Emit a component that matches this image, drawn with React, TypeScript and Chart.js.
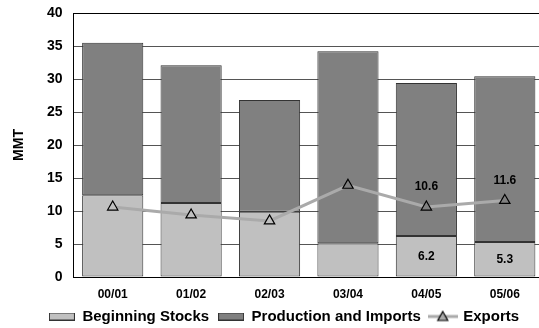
import React, { useEffect, useRef } from "react";
import { Chart, registerables } from "chart.js";

Chart.register(...registerables);

const categories = ["00/01", "01/02", "02/03", "03/04", "04/05", "05/06"];
const beginningStocks = [12.4, 11.2, 9.9, 5.1, 6.2, 5.3];
const productionImports = [23.1, 20.9, 16.9, 29.1, 23.2, 25.1];
const exportsMMT = [10.6, 9.4, 8.5, 13.9, 10.6, 11.6];
const stockLabelShown = [false, false, false, false, true, true];
const exportLabelShown = [false, false, false, false, true, true];
const yMin = 0;
const yMax = 40;
const yStep = 5;
const seriesNames = ["Beginning Stocks", "Production and Imports", "Exports"];

const FONT = '"Liberation Sans", Arial, Helvetica, sans-serif';
const STOCK_COLOR = "#c0c0c0";
const PROD_COLOR = "#808080";
const LINE_COLOR = "#aaaaaa";
const BORDER = "#333333";

function boxImage(fill: string) {
  const c = document.createElement("canvas");
  c.width = 26;
  c.height = 8;
  const g = c.getContext("2d")!;
  g.fillStyle = fill;
  g.fillRect(0, 0, 26, 8);
  g.strokeStyle = BORDER;
  g.lineWidth = 1;
  g.strokeRect(0.5, 0.5, 25, 7);
  return c;
}

function lineImage() {
  const c = document.createElement("canvas");
  c.width = 30;
  c.height = 14;
  const g = c.getContext("2d")!;
  g.strokeStyle = LINE_COLOR;
  g.lineWidth = 3;
  g.beginPath();
  g.moveTo(0, 7);
  g.lineTo(30, 7);
  g.stroke();
  g.beginPath();
  g.moveTo(15, 2);
  g.lineTo(20, 11);
  g.lineTo(10, 11);
  g.closePath();
  g.fillStyle = LINE_COLOR;
  g.fill();
  g.strokeStyle = "#000";
  g.lineWidth = 1.2;
  g.stroke();
  return c;
}

const labelPlugin = {
  id: "valueLabels",
  afterDatasetsDraw(chart: any) {
    const ctx = chart.ctx;
    ctx.save();
    ctx.font = `bold 12px ${FONT}`;
    ctx.fillStyle = "#000";
    ctx.textAlign = "center";
    ctx.textBaseline = "middle";
    const m0 = chart.getDatasetMeta(0);
    m0.data.forEach((el: any, i: number) => {
      if (stockLabelShown[i]) ctx.fillText(beginningStocks[i].toFixed(1), el.x, (el.y + el.base) / 2);
    });
    const m2 = chart.getDatasetMeta(2);
    m2.data.forEach((el: any, i: number) => {
      if (exportLabelShown[i]) ctx.fillText(exportsMMT[i].toFixed(1), el.x, el.y - 20);
    });
    ctx.restore();
  },
};

export default function App() {
  const ref = useRef<HTMLCanvasElement>(null);
  useEffect(() => {
    if (!ref.current) return;
    const imgs = [boxImage(STOCK_COLOR), boxImage(PROD_COLOR), lineImage()];
    const pointBg = exportsMMT.map((v, i) => (v < beginningStocks[i] ? STOCK_COLOR : PROD_COLOR));
    const chart = new Chart(ref.current, {
      type: "bar",
      data: {
        labels: categories,
        datasets: [
          {
            type: "bar",
            label: seriesNames[0],
            data: beginningStocks,
            backgroundColor: STOCK_COLOR,
            borderColor: BORDER,
            borderWidth: 1,
            borderSkipped: false,
            order: 1,
            stack: "s",
            barPercentage: 0.78,
            categoryPercentage: 1,
          },
          {
            type: "bar",
            label: seriesNames[1],
            data: productionImports,
            backgroundColor: PROD_COLOR,
            borderColor: BORDER,
            borderWidth: 1,
            borderSkipped: false,
            order: 2,
            stack: "s",
            barPercentage: 0.78,
            categoryPercentage: 1,
          },
          {
            type: "line",
            label: seriesNames[2],
            data: exportsMMT,
            borderColor: LINE_COLOR,
            borderWidth: 3,
            tension: 0,
            pointStyle: "triangle",
            pointRadius: 6,
            pointBorderColor: "#000",
            pointBorderWidth: 1.2,
            pointBackgroundColor: pointBg,
            order: 0,
            stack: "line",
          } as any,
        ],
      },
      options: {
        responsive: false,
        animation: false,
        events: [],
        layout: { autoPadding: false, padding: { left: 24, right: 0, top: 13, bottom: 0 } },
        plugins: {
          tooltip: { enabled: false },
          legend: {
            position: "bottom",
            labels: {
              usePointStyle: true,
              pointStyleWidth: 26,
              padding: 9,
              color: "#000",
              font: { family: FONT, size: 15, weight: "bold" },
              generateLabels: () =>
                seriesNames.map((t, i) => ({
                  text: t,
                  pointStyle: imgs[i] as any,
                  fillStyle: "transparent",
                  strokeStyle: "transparent",
                  lineWidth: 0,
                  hidden: false,
                  datasetIndex: i,
                  fontColor: "#000",
                })),
            },
          },
        },
        scales: {
          x: {
            stacked: true,
            afterFit: (s: any) => {
              s.height = 23;
              s.paddingLeft = 0;
              s.paddingRight = 0;
            },
            grid: { display: false, drawTicks: false },
            border: { color: "#000", width: 1 },
            ticks: { color: "#000", padding: 10, font: { family: FONT, size: 12, weight: "bold" } },
          },
          y: {
            stacked: true,
            min: yMin,
            max: yMax,
            afterFit: (s: any) => {
              s.width = 49.5;
              s.paddingTop = 0;
              s.paddingBottom = 0;
            },
            ticks: {
              stepSize: yStep,
              color: "#000",
              padding: 11,
              font: { family: FONT, size: 14, weight: "bold" },
            },
            grid: {
              drawTicks: false,
              color: (c: any) => (c.tick && c.tick.value === yMax ? "#000" : "#555"),
              lineWidth: 1,
            },
            border: { color: "#000", width: 1 },
            title: {
              display: true,
              text: "MMT",
              color: "#000",
              padding: { top: -13.4, bottom: 0 },
              font: { family: FONT, size: 14, weight: "bold" },
            },
          },
        },
      },
      plugins: [labelPlugin],
    });
    return () => chart.destroy();
  }, []);
  return (
    <div style={{ position: "fixed", left: 0, top: 0, width: 539, height: 328, overflow: "hidden", background: "#fff" }}>
      <div style={{ width: 544, height: 334 }}>
        <canvas ref={ref} width={544} height={334} style={{ display: "block" }} />
      </div>
    </div>
  );
}
